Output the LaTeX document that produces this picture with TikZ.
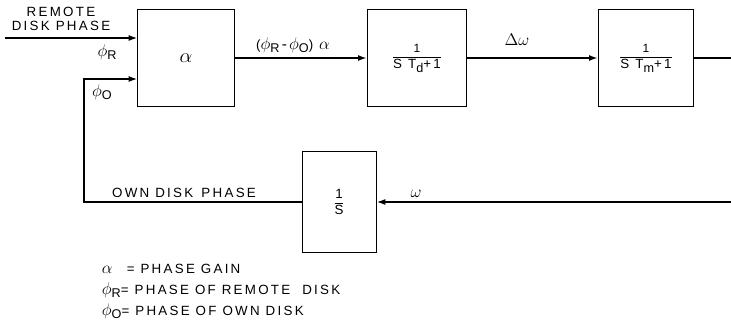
\documentclass[tikz,border=0pt]{standalone}
\usepackage{amsmath}
\usepackage{fontspec}
\setmainfont[LetterSpace=17]{Liberation Sans}
\usetikzlibrary{arrows.meta, positioning, calc}

% lowered upright subscript and larger greek letters
\newcommand{\lowsub}[1]{\raisebox{-0.45ex}{\fontsize{9}{9}\selectfont #1}}
\newcommand{\gk}[1]{{\fontsize{12}{12}\selectfont$#1$}}

\begin{document}
\begin{tikzpicture}[x=0.025cm, y=-0.025cm,
  box/.style={draw, line width=0.7pt, inner sep=0pt},
  flow/.style={line width=1.3pt, -{Latex[length=2.2mm,width=1.5mm]}},
  wire/.style={line width=1.3pt},
  every node/.append style={font=\fontsize{9.5}{10.5}\selectfont}]
\useasboundingbox (0,0) rectangle (731,334);

% Blocks
\node[box, minimum width=2.4cm, minimum height=2.42cm] (gain) at (186,58)
  {{\fontsize{14}{14}\selectfont$\alpha$}};
\node[box, minimum width=2.48cm, minimum height=2.42cm] (drive) at (417,58)
  {$\dfrac{\text{\fontsize{8.5}{9}\selectfont 1}}{\text{S T\lowsub{d}+1}}$};
\node[box, minimum width=2.38cm, minimum height=2.42cm] (motor) at (646,58)
  {$\dfrac{\text{\fontsize{8.5}{9}\selectfont 1}}{\text{S T\lowsub{m}+1}}$};
\node[box, minimum width=1.85cm, minimum height=2.5cm] (integ) at (339,202)
  {$\dfrac{\text{1}}{\text{S}}$};

% Free ends and corner
\coordinate (inR) at (5,38);
\coordinate (corner) at (84,79);
\coordinate (edgeR) at (731,0);

% Forward path
\draw[flow] (inR) -- (inR -| gain.west);
\draw[flow] (gain.east) -- (drive.west);
\draw[flow] (drive.east) -- (motor.west);
\draw[wire] (motor.east) -- (motor.east -| edgeR);

% Feedback path
\draw[flow] (integ.east -| edgeR) -- (integ.east);
\draw[flow] (integ.west) -| (corner) -- (corner -| gain.west);

% Signal labels
\node[align=center, font=\fontsize{9.5}{10.5}\selectfont] (remote) at (61,19) {REMOTE\\DISK PHASE};
\node (phiR) at (107,52) {\gk{\phi}\lowsub{R}};
\node (phiO) at (102,92) {\gk{\phi}\lowsub{O}};
\node (err) at (293,45) {(\gk{\phi}\lowsub{R}\,{\fontsize{11}{11}\selectfont -}\,\gk{\phi}\lowsub{O}) \gk{\alpha}};
\node (dw) at (517,40) {\gk{\Delta\omega}};
\node (w) at (416,194) {\gk{\omega}};
\node (own) at (184,193) {OWN DISK\, PHASE};

% Legend
\node[anchor=west] (leg1) at (97,269) {\gk{\alpha}\ \ \,= PHASE GAIN};
\node[anchor=west] (leg2) at (97,290) {\gk{\phi}\lowsub{R}= PHASE OF REMOTE\ \ DISK};
\node[anchor=west] (leg3) at (97,311) {\gk{\phi}\lowsub{O}= PHASE OF OWN DISK};

\end{tikzpicture}
\end{document}
